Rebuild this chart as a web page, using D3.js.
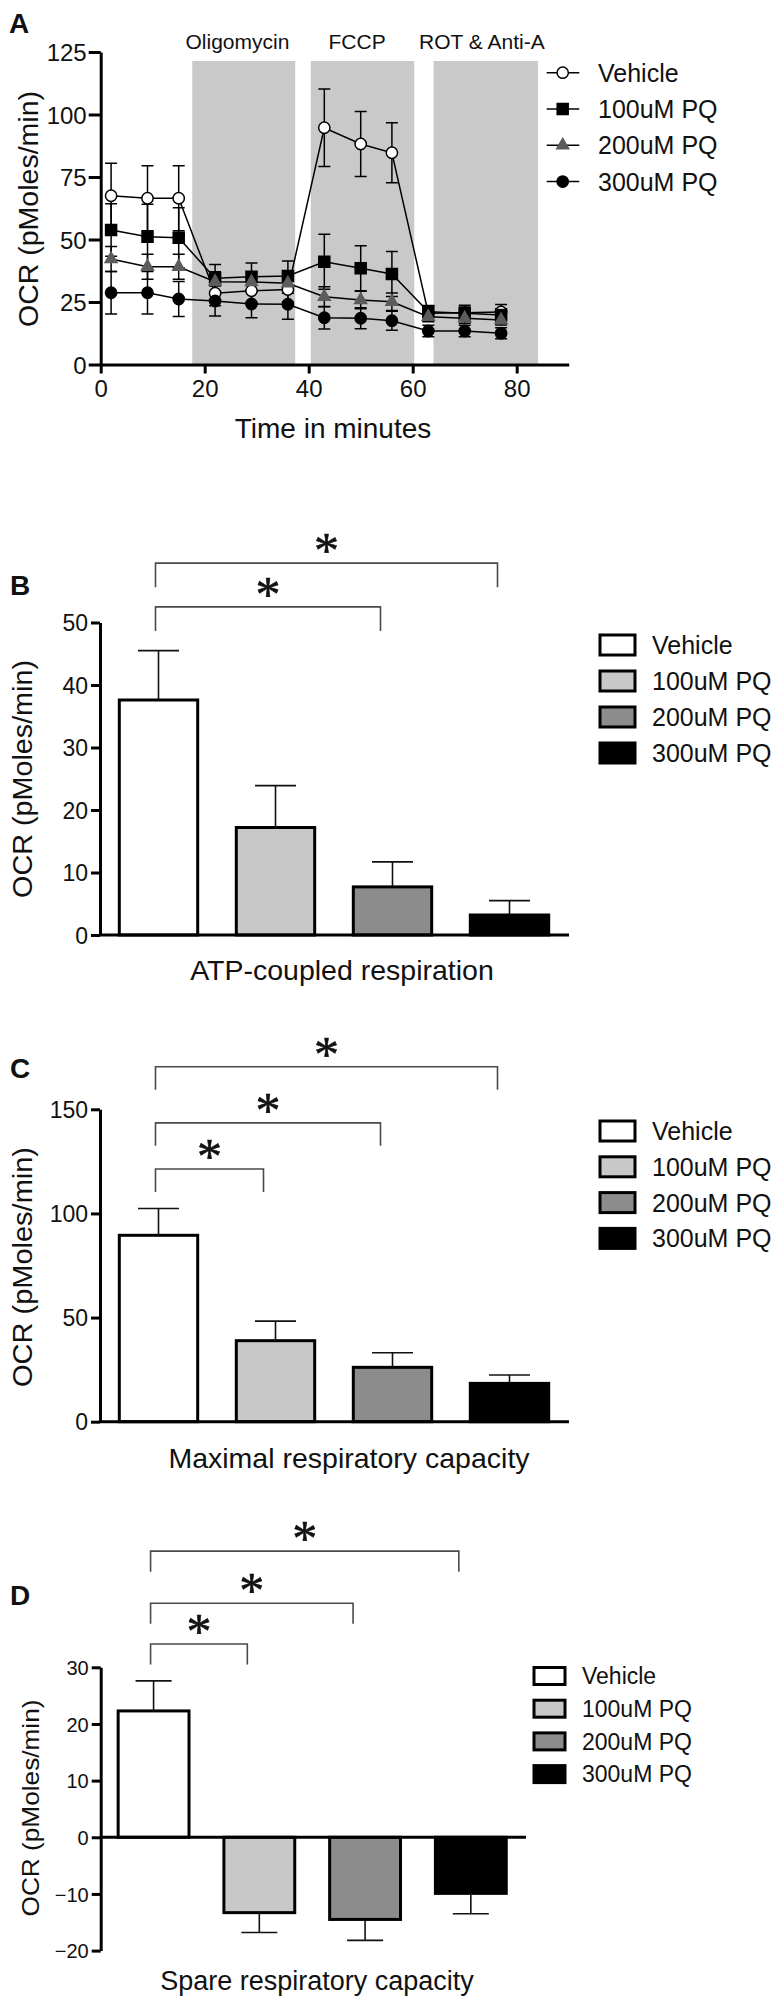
<!DOCTYPE html>
<html>
<head>
<meta charset="utf-8">
<script src="https://cdn.jsdelivr.net/npm/d3@7"></script>
<style>
  html, body { margin: 0; padding: 0; background: #fff; }
  svg { display: block; }
  text { font-family: "Liberation Sans", Arial, Helvetica, sans-serif; fill: #111; }
</style>
</head>
<body>
<svg id="chart" width="778" height="2000"></svg>
<script>
// ---------------- DATA ----------------
// Panel A: time course
const times = [2, 9, 15, 22, 29, 36, 43, 50, 56, 63, 70, 77];
const seriesNames = ["Vehicle", "100uM PQ", "200uM PQ", "300uM PQ"];
const vehicleOCR = [67.5, 66.5, 66.5, 28.5, 29.5, 30.0, 94.7, 88.2, 84.7, 20.5, 20.7, 21.0];
const vehicleErr = [13, 13, 13, 5, 5, 5, 15.5, 13, 12, 3, 3, 3];
const pq100OCR = [53.8, 51.1, 50.7, 34.5, 35.1, 35.4, 41.1, 38.5, 36.2, 21.1, 20.5, 19.8];
const pq100Err = [10.5, 13, 12, 5.5, 5.5, 6, 11, 9, 9, 2.5, 2.5, 2.5];
const pq200OCR = [42.2, 39.1, 39.1, 33.1, 33.0, 32.5, 27.1, 25.8, 25.1, 19.1, 18.5, 17.8];
const pq200Err = [5, 5, 5, 4, 4, 4, 4, 3.5, 3.5, 2, 2, 2];
const pq300OCR = [28.7, 28.7, 26.2, 25.4, 24.2, 24.1, 18.7, 18.5, 17.5, 13.4, 13.4, 12.5];
const pq300Err = [8.5, 8.5, 7, 6, 5.5, 6, 4.5, 4.2, 3.8, 2.3, 2.3, 2.2];
const injectionLabels = ["Oligomycin", "FCCP", "ROT & Anti-A"];
const injectionStart = [17.6, 40.4, 64.0];
const injectionEnd = [37.4, 60.3, 84.1];
const injectionLabelX = [26.3, 49.3, 73.3];
const injectionTop = 121.4;
const timeTicks = [0, 20, 40, 60, 80];
const ocrTicksA = [0, 25, 50, 75, 100, 125];

// Panels B-D: bar summaries
const groups = ["Vehicle", "100uM PQ", "200uM PQ", "300uM PQ"];
const atpMean = [37.6, 17.2, 7.7, 3.2];
const atpErr = [7.9, 6.7, 4.0, 2.3];
const atpTicks = [0, 10, 20, 30, 40, 50];
const atpBrackets = [[0, 3, 59.5], [0, 2, 52.5]];

const maxMean = [89.5, 38.9, 26.1, 18.4];
const maxErr = [12.9, 9.4, 7.0, 4.0];
const maxTicks = [0, 50, 100, 150];
const maxBrackets = [[0, 3, 170.4], [0, 2, 143.5], [0, 1, 121.3]];

const spareMean = [22.3, -13.3, -14.5, -9.9];
const spareErr = [5.3, 3.5, 3.7, 3.6];
const spareTicks = [-20, -10, 0, 10, 20, 30];
const spareBrackets = [[0, 3, 50.5], [0, 2, 41.3], [0, 1, 34.1]];

const barColors = ["#ffffff", "#c8c8c8", "#8c8c8c", "#000000"];

// ---------------- DRAW ----------------
const svg = d3.select("#chart");
const FONT = '"Liberation Sans", Arial, Helvetica, sans-serif';

function styleAxis(g, fontSize) {
  g.select(".domain").attr("stroke", "#000").attr("stroke-width", 3);
  g.selectAll(".tick line").attr("stroke", "#000").attr("stroke-width", 3);
  g.selectAll(".tick text").attr("fill", "#111").style("font-size", fontSize + "px").style("font-family", FONT);
}

// ===== Panel A =====
(function () {
  const x = d3.scaleLinear().domain([0, 90]).range([100.7, 568.7]);
  const y = d3.scaleLinear().domain([0, 125]).range([364.5, 52]);
  const g = svg.append("g");

  // injection windows
  g.selectAll("rect.band").data(injectionLabels).join("rect")
    .attr("x", (d, i) => x(injectionStart[i]))
    .attr("width", (d, i) => x(injectionEnd[i]) - x(injectionStart[i]))
    .attr("y", y(injectionTop))
    .attr("height", y(0) - y(injectionTop))
    .attr("fill", "#c9c9c9");
  g.selectAll("text.inj").data(injectionLabels).join("text")
    .attr("x", (d, i) => x(injectionLabelX[i]))
    .attr("y", 49)
    .attr("text-anchor", "middle")
    .style("font-size", "21px")
    .text(d => d);

  // axes
  const ya = g.append("g").attr("transform", `translate(${x(0)},0)`)
    .call(d3.axisLeft(y).tickValues(ocrTicksA).tickSize(12).tickSizeOuter(0).tickPadding(2));
  styleAxis(ya, 24);
  ya.selectAll(".tick text").attr("dy", "0.36em");
  const xa = g.append("g").attr("transform", `translate(0,${y(0)})`)
    .call(d3.axisBottom(x).tickValues(timeTicks).tickSize(9).tickSizeOuter(0).tickPadding(6));
  styleAxis(xa, 24);

  g.append("text").attr("x", 333).attr("y", 438).attr("text-anchor", "middle")
    .style("font-size", "28px").text("Time in minutes");
  g.append("text").attr("transform", "translate(38,209) rotate(-90)").attr("text-anchor", "middle")
    .style("font-size", "28.5px").text("OCR (pMoles/min)");
  g.append("text").attr("x", 9).attr("y", 33).style("font-size", "28px").style("font-weight", "bold").text("A");

  const series = [
    { name: seriesNames[0], v: vehicleOCR, e: vehicleErr, sym: d3.symbolCircle, size: 100, fill: "#fff", stroke: "#000" },
    { name: seriesNames[1], v: pq100OCR, e: pq100Err, sym: d3.symbolSquare, size: 121, fill: "#000", stroke: "#000" },
    { name: seriesNames[2], v: pq200OCR, e: pq200Err, sym: d3.symbolTriangle, size: 62, fill: "#5c5c5c", stroke: "#5c5c5c" },
    { name: seriesNames[3], v: pq300OCR, e: pq300Err, sym: d3.symbolCircle, size: 100, fill: "#000", stroke: "#000" }
  ];
  const line = d3.line().x(d => x(d[0])).y(d => y(d[1]));

  series.forEach(s => {
    const pts = times.map((t, i) => [t, s.v[i], s.e[i]]);
    const eg = g.append("g").attr("stroke", "#000").attr("stroke-width", 1.5);
    eg.selectAll("line.stem").data(pts).join("line")
      .attr("x1", d => x(d[0])).attr("x2", d => x(d[0]))
      .attr("y1", d => y(d[1] - d[2])).attr("y2", d => y(d[1] + d[2]));
    eg.selectAll("line.capT").data(pts).join("line").attr("class", "capT")
      .attr("x1", d => x(d[0]) - 6).attr("x2", d => x(d[0]) + 6)
      .attr("y1", d => y(d[1] + d[2])).attr("y2", d => y(d[1] + d[2]));
    eg.selectAll("line.capB").data(pts).join("line").attr("class", "capB")
      .attr("x1", d => x(d[0]) - 6).attr("x2", d => x(d[0]) + 6)
      .attr("y1", d => y(d[1] - d[2])).attr("y2", d => y(d[1] - d[2]));
  });
  series.forEach(s => {
    const pts = times.map((t, i) => [t, s.v[i]]);
    g.append("path").datum(pts).attr("d", line).attr("fill", "none").attr("stroke", "#000").attr("stroke-width", 1.5);
  });
  series.forEach(s => {
    const pts = times.map((t, i) => [t, s.v[i]]);
    g.selectAll(null).data(pts).join("path")
      .attr("transform", d => `translate(${x(d[0])},${y(d[1])})`)
      .attr("d", d3.symbol().type(s.sym).size(s.size))
      .attr("fill", s.fill).attr("stroke", s.stroke).attr("stroke-width", 1.5);
  });

  // legend
  const lg = g.append("g");
  const rowY = d3.scaleLinear().domain([0, 1]).range([72.7, 109]);
  series.forEach((s, i) => {
    const cy = rowY(i);
    lg.append("line").attr("x1", 546.7).attr("x2", 579.3).attr("y1", cy).attr("y2", cy)
      .attr("stroke", "#000").attr("stroke-width", 1.5);
    lg.append("path").attr("transform", `translate(562.7,${cy})`)
      .attr("d", d3.symbol().type(s.sym).size(s.size))
      .attr("fill", s.fill).attr("stroke", s.stroke).attr("stroke-width", 1.5);
    lg.append("text").attr("x", 598).attr("y", cy + 9).style("font-size", "25px").text(s.name);
  });
})();

// ===== Bar panels =====
function barPanel(cfg) {
  const g = svg.append("g");
  const x = d3.scaleBand().domain(groups).range(cfg.xRange).paddingInner(0.33).paddingOuter(0.165);
  const y = d3.scaleLinear().domain(cfg.domain).range(cfg.yRange);

  // bars
  g.selectAll("rect.bar").data(cfg.mean).join("rect")
    .attr("x", (d, i) => x(groups[i]))
    .attr("width", x.bandwidth())
    .attr("y", d => Math.min(y(d), y(0)))
    .attr("height", d => Math.abs(y(d) - y(0)))
    .attr("fill", (d, i) => barColors[i])
    .attr("stroke", "#000").attr("stroke-width", 3);

  // error bars (one-sided, away from zero)
  const eg = g.append("g").attr("stroke", "#111").attr("stroke-width", 1.6);
  cfg.mean.forEach((m, i) => {
    const cx = x(groups[i]) + x.bandwidth() / 2;
    const tip = m >= 0 ? m + cfg.err[i] : m - cfg.err[i];
    eg.append("line").attr("x1", cx).attr("x2", cx).attr("y1", y(m)).attr("y2", y(tip));
    eg.append("line").attr("x1", cx - cfg.cap).attr("x2", cx + cfg.cap).attr("y1", y(tip)).attr("y2", y(tip));
  });

  // axes
  const ya = g.append("g").attr("transform", `translate(${cfg.xRange[0]},0)`)
    .call(d3.axisLeft(y).tickValues(cfg.ticks).tickSize(9).tickSizeOuter(0).tickPadding(3).tickFormat(d3.format("d")));
  styleAxis(ya, cfg.tickFont);
  ya.selectAll(".tick text").attr("dy", "0.36em");
  const xa = g.append("g").attr("transform", `translate(0,${y(0)})`)
    .call(d3.axisBottom(x).tickValues([]).tickSizeOuter(0));
  xa.select(".domain").attr("stroke", "#000").attr("stroke-width", 3)
    .attr("d", `M${cfg.xRange[0]},0H${cfg.xAxisEnd}`);

  // significance brackets
  const bg = g.append("g");
  cfg.brackets.forEach(b => {
    const x1 = x(groups[b[0]]) + x.bandwidth() / 2 - 3;
    const x2 = x(groups[b[1]]) + x.bandwidth() / 2 - 12;
    const by = y(b[2]);
    bg.append("path")
      .attr("d", `M${x1},${by + cfg.drop}V${by}H${x2}V${by + cfg.drop}`)
      .attr("fill", "none").attr("stroke", "#4a4a4a").attr("stroke-width", 1.6);
    bg.append("text").attr("x", (x1 + x2) / 2).attr("y", by - 20 + 24)
      .attr("text-anchor", "middle")
      .style("font-family", '"Liberation Serif", "Times New Roman", serif')
      .style("font-size", "50px")
      .attr("stroke", "#111").attr("stroke-width", 0.6)
      .text("*");
  });

  // titles
  g.append("text").attr("x", cfg.titleX).attr("y", cfg.titleY).attr("text-anchor", "middle")
    .style("font-size", cfg.titleFont + "px").text(cfg.title);
  g.append("text").attr("transform", `translate(${cfg.ylabX},${cfg.ylabY}) rotate(-90)`)
    .attr("text-anchor", "middle").style("font-size", cfg.ylabFont + "px")
    .attr("textLength", cfg.ylabLen).attr("lengthAdjust", "spacingAndGlyphs")
    .text("OCR (pMoles/min)");
  g.append("text").attr("x", 10).attr("y", cfg.letterY).style("font-size", "28px").style("font-weight", "bold").text(cfg.letter);

  // legend
  const lg = g.append("g");
  groups.forEach((name, i) => {
    const cy = cfg.legY[0] + i * cfg.legStep;
    lg.append("rect").attr("x", cfg.legX).attr("y", cy - cfg.boxH / 2)
      .attr("width", cfg.boxW).attr("height", cfg.boxH)
      .attr("fill", barColors[i]).attr("stroke", "#000").attr("stroke-width", 3);
    lg.append("text").attr("x", cfg.legX + cfg.boxW + 17).attr("y", cy + cfg.legFont * 0.36)
      .style("font-size", cfg.legFont + "px").text(name);
  });
}

barPanel({
  letter: "B", letterY: 595,
  mean: atpMean, err: atpErr, ticks: atpTicks, brackets: atpBrackets,
  domain: [0, 50], yRange: [935, 622.5], xRange: [100, 568], xAxisEnd: 569,
  cap: 20.5, tickFont: 23, drop: 24,
  title: "ATP-coupled respiration", titleX: 342, titleY: 980, titleFont: 28.5,
  ylabX: 32, ylabY: 779, ylabFont: 28, ylabLen: 238,
  legX: 600, legY: [645], legStep: 36, boxW: 35, boxH: 20, legFont: 25
});

barPanel({
  letter: "C", letterY: 1078,
  mean: maxMean, err: maxErr, ticks: maxTicks, brackets: maxBrackets,
  domain: [0, 150], yRange: [1421.7, 1109.3], xRange: [100, 568], xAxisEnd: 569,
  cap: 20.5, tickFont: 23, drop: 23,
  title: "Maximal respiratory capacity", titleX: 349, titleY: 1468, titleFont: 28.5,
  ylabX: 32, ylabY: 1267, ylabFont: 28, ylabLen: 240,
  legX: 600, legY: [1131], legStep: 35.8, boxW: 35, boxH: 20, legFont: 25
});

barPanel({
  letter: "D", letterY: 1605,
  mean: spareMean, err: spareErr, ticks: spareTicks, brackets: spareBrackets,
  domain: [-20, 30], yRange: [1950.6, 1667.3], xRange: [100.7, 523.7], xAxisEnd: 526,
  cap: 18, tickFont: 20, drop: 20.5,
  title: "Spare respiratory capacity", titleX: 317, titleY: 1990, titleFont: 27,
  ylabX: 39, ylabY: 1808, ylabFont: 24, ylabLen: 217,
  legX: 534, legY: [1676], legStep: 32.7, boxW: 31, boxH: 17, legFont: 23
});
</script>
</body>
</html>
